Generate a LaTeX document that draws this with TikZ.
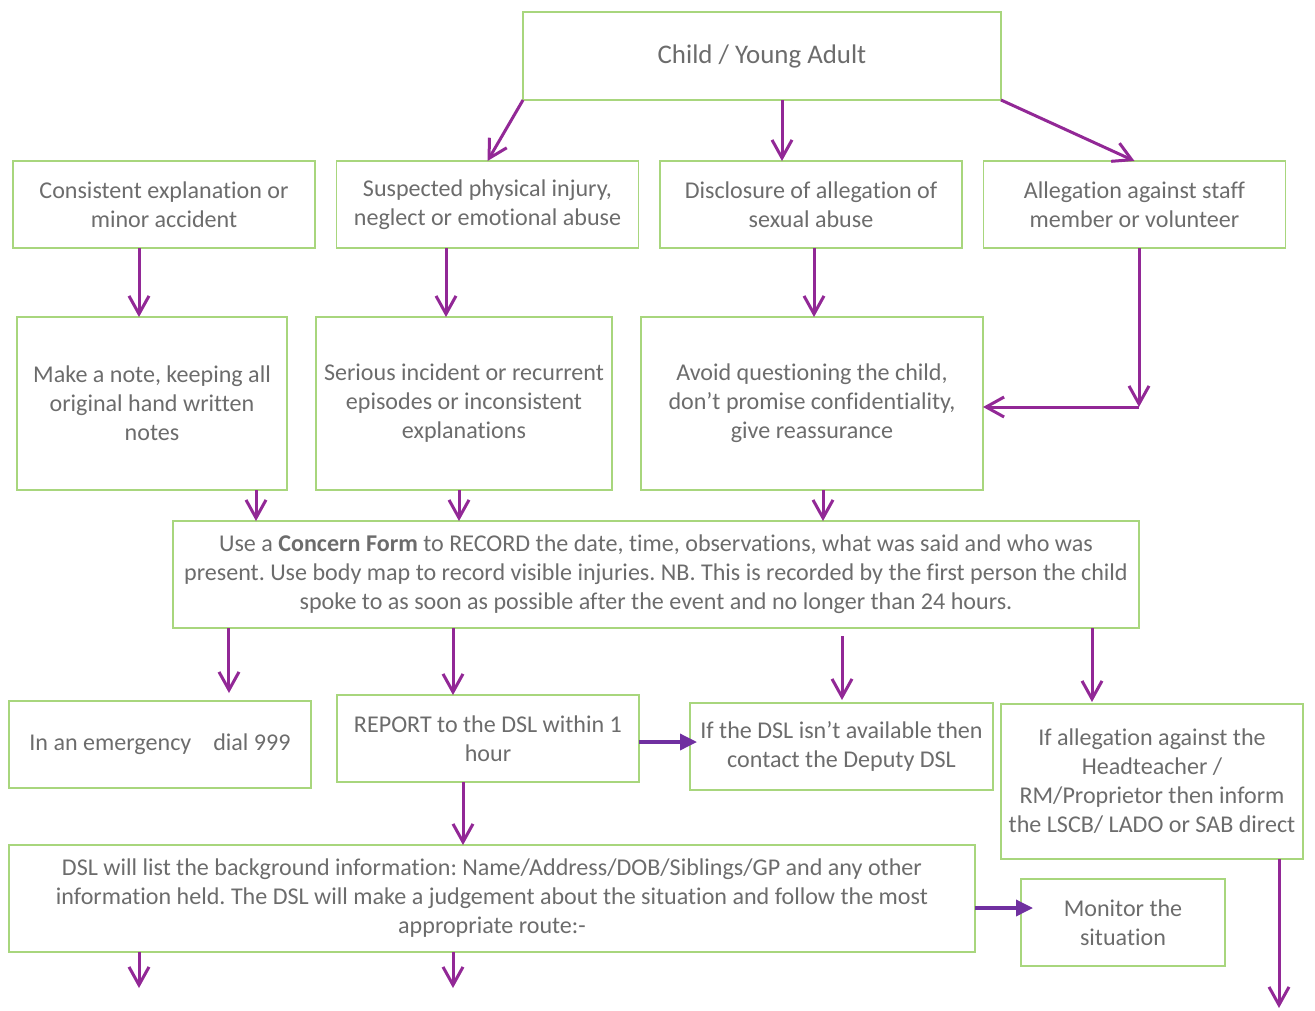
\documentclass[tikz,border=0pt]{standalone}
\usepackage{fontspec}
\setmainfont{Carlito}[Ligatures=NoCommon]
\usetikzlibrary{positioning,arrows.meta}
\definecolor{boxgreen}{RGB}{168,214,125}
\definecolor{arrpurple}{RGB}{146,40,150}
\definecolor{arrviolet}{RGB}{112,48,160}
\definecolor{txtgray}{RGB}{108,108,108}
\frenchspacing

\begin{document}
\begin{tikzpicture}
[x=0.2mm,y=-0.2mm,
 every node/.style={inner sep=0mm,outer sep=0mm,text=txtgray,align=center,font=\fontsize{13.7}{16.5}\selectfont},
 box/.style={rectangle,draw=boxgreen,line width=0.3mm},
 small/.style={box,minimum width=60.4mm,minimum height=17.4mm},
 tall/.style={box,minimum height=34.6mm},
 wide/.style={box,minimum width=193.2mm,minimum height=21.4mm},
 flow/.style={draw=arrpurple,line width=0.6mm,-{Straight Barb[length=3.6mm,width=4mm]}},
 side/.style={draw=arrviolet,line width=0.7mm,-{Triangle[length=3.4mm,width=3.2mm]}}]
\useasboundingbox (0,0) rectangle (1315,1010);

\node[box,minimum width=95.6mm,minimum height=17.6mm,font=\fontsize{15.3}{18}\selectfont] (cya) at (762,56) {Child / Young Adult};

\node[small] (cons) at (164,204.5)    {Consistent explanation or\\minor accident};
\node[small] (susp) at (487.5,204.5)  {Suspected physical injury,\\neglect or emotional abuse};
\node[small] (disc) at (811,204.5)    {Disclosure of allegation of\\sexual abuse};
\node[small] (alg)  at (1134.5,204.5) {Allegation against staff\\member or volunteer};

\node[tall,minimum width=54mm]   (note) at (152,403.5) {Make a note, keeping all\\original hand written\\notes};
\node[tall,minimum width=59.2mm] (ser)  at (464,403.5) {Serious incident or recurrent\\episodes or inconsistent\\explanations};
\node[tall,minimum width=68.4mm] (avd)  at (812,403.5) {Avoid questioning the child,\\don’t promise confidentiality,\\give reassurance};

\node[wide] (form) at (656,574.5) {Use a \textbf{Concern Form} to RECORD the date, time, observations, what was said and who was\\present. Use body map to record visible injuries. NB. This is recorded by the first person the child\\spoke to as soon as possible after the event and no longer than 24 hours.};

\node[small] (emg) at (160,744.5)   {In an emergency\hspace{4.4mm}dial 999};
\node[small] (rep) at (488,738.5)   {REPORT to the DSL within 1\\hour};
\node[small,minimum width=60.6mm] (dep) at (841.5,746.5) {If the DSL isn’t available then\\contact the Deputy DSL};
\node[small,minimum height=31mm]  (head) at (1152,781.5) {If allegation against the\\Headteacher /\\RM/Proprietor then inform\\the LSCB/ LADO or SAB direct};

\node[wide] (dsl) at (492,898.5) {DSL will list the background information: Name/Address/DOB/Siblings/GP and any other\\information held. The DSL will make a judgement about the situation and follow the most\\appropriate route:-};
\node[small,minimum width=40.8mm] (mon) at (1123,922.5) {Monitor the\\situation};

\coordinate (turn) at (1139,407);
\coordinate (out1) at (139,988);
\coordinate (out2) at (453,988);
\coordinate (out3) at (1279,1008);

\draw[flow] (cya.south west) -- (susp.north);
\draw[flow] ([xshift=4mm]cya.south) -- ([xshift=4mm]cya.south |- disc.north);
\draw[flow] (cya.south east) -- (alg.north);

\draw[flow] ([xshift=-5mm]cons.south) -- ([xshift=-5mm]cons.south |- note.north);
\draw[flow] ([xshift=-8.3mm]susp.south) -- ([xshift=-8.3mm]susp.south |- ser.north);
\draw[flow] ([xshift=0.6mm]disc.south) -- ([xshift=0.6mm]disc.south |- avd.north);
\draw[flow] (alg.south -| turn) -- (turn);
\draw[flow] (turn) -- (turn -| avd.east);

\draw[flow] ([xshift=20.8mm]note.south) -- ([xshift=20.8mm]note.south |- form.north);
\draw[flow] ([xshift=-1mm]ser.south) -- ([xshift=-1mm]ser.south |- form.north);
\draw[flow] ([xshift=2.2mm]avd.south) -- ([xshift=2.2mm]avd.south |- form.north);

\draw[flow,shorten >=1.6mm] ([xshift=-85.4mm]form.south) -- ([xshift=-85.4mm]form.south |- emg.north);
\draw[flow] ([xshift=-40.6mm]form.south) -- ([xshift=-40.6mm]form.south |- rep.north);
\draw[flow,shorten <=1.6mm,shorten >=0.6mm] ([xshift=37.2mm]form.south) -- ([xshift=37.2mm]form.south |- dep.north);
\draw[flow,shorten >=0.4mm] ([xshift=87.2mm]form.south) -- ([xshift=87.2mm]form.south |- head.north);

\draw[side,shorten >=-1.4mm] ([yshift=-0.7mm]rep.east) -- ([yshift=-0.7mm]rep.east -| dep.west);
\draw[flow] ([xshift=-5mm]rep.south) -- ([xshift=-5mm]rep.south |- dsl.north);
\draw[side,shorten >=-2.4mm] ([yshift=-1.9mm]dsl.east) -- ([yshift=-1.9mm]dsl.east -| mon.west);

\draw[flow] (out1 |- dsl.south) -- (out1);
\draw[flow] (out2 |- dsl.south) -- (out2);
\draw[flow] (out3 |- head.south) -- (out3);
\end{tikzpicture}
\end{document}
